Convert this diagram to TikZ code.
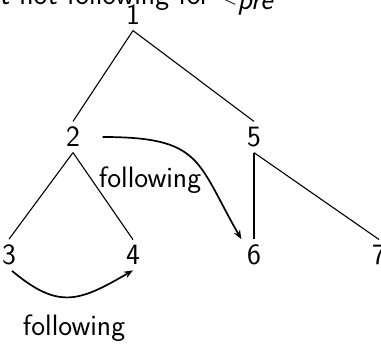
\documentclass[tikz,border=0pt]{standalone}
\usetikzlibrary{arrows.meta}
\begin{document}
\begin{tikzpicture}[x=1pt,y=1pt,
  font=\fontsize{29.5}{33}\selectfont\sffamily,
  tn/.style={inner sep=5.5pt},
  edge/.style={line width=1.1pt},
  fol/.style={line width=1.7pt,-{Stealth[length=9pt,width=7pt]}},
  lbl/.style={inner sep=0pt,anchor=base}]
\useasboundingbox (0,0) rectangle (381,-345);
\clip (0,0) rectangle (381,-345);
\node[inner sep=0pt,anchor=base west] (title) at (0,-5) {t not following for $<_{\textsf{\itshape pre}}$};
\node[tn] (n1) at (133,-15) {1};
\node[tn] (n2) at (73,-137) {2};
\node[tn] (n5) at (254,-137) {5};
\node[tn] (n3) at (9,-255) {3};
\node[tn] (n4) at (133,-255) {4};
\node[tn] (n6) at (254,-255) {6};
\node[tn] (n7) at (379,-255) {7};
\draw[edge] (n1.south) -- (n2.north);
\draw[edge] (n1.south) -- (n5.north);
\draw[edge] (n2.south) -- (n3.north);
\draw[edge] (n2.south) -- (n4.north);
\draw[edge] (n5.south) -- (n6.north);
\draw[edge] (n5.south) -- (n7.north);
\draw[fol] ([xshift=17pt]n2.east) .. controls +(100,0) and +(-45,78) .. (n6.north west);
\node[lbl] (l1) at (150,-188) {following};
\draw[fol] ([xshift=3pt]n3.south) to[out=-40,in=-150,looseness=1.3] (n4.south);
\node[lbl] (l2) at (74,-335) {following};
\end{tikzpicture}
\end{document}
